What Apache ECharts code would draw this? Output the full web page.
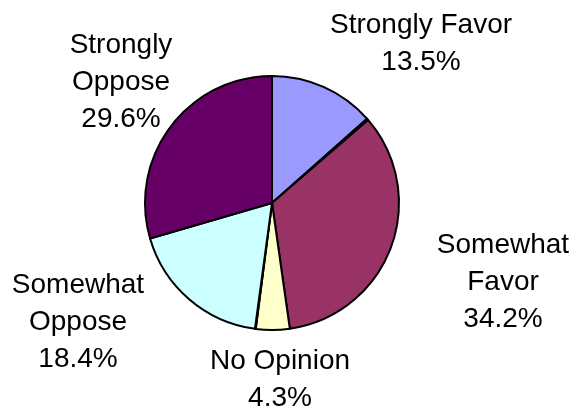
<!DOCTYPE html>
<html>
<head>
<meta charset="utf-8">
<script src="https://cdn.jsdelivr.net/npm/echarts@6/dist/echarts.min.js"></script>
<style>
html,body{margin:0;padding:0;background:#fff;}
#c{width:578px;height:413px;}
</style>
</head>
<body>
<div id="c"></div>
<script>
// Data (clockwise from 12 o'clock)
const categories = ['Strongly Favor', 'Other', 'Somewhat Favor', 'No Opinion', 'Other 2', 'Somewhat Oppose', 'Strongly Oppose'];
const labelNames = ['Strongly Favor', '', 'Somewhat\nFavor', 'No Opinion', '', 'Somewhat\nOppose', 'Strongly\nOppose'];
const values = [13.5, 0.2, 34.2, 4.3, 0.1, 18.4, 29.6];
const colors = ['#9999FF', '#DDDDDD', '#993366', '#FFFFCC', '#CCFFFF', '#CCFFFF', '#660066'];
// label block centres (px), styling only
const labelX = [421, 0, 503, 280, 0, 78, 121];
const labelY = [44, 0, 282, 380, 0, 322, 82];

const chart = echarts.init(document.getElementById('c'), null, {renderer: 'canvas'});
chart.setOption({
  animation: false,
  backgroundColor: '#ffffff',
  series: [{
    type: 'pie',
    center: [272, 203],
    radius: 127,
    startAngle: 90,
    clockwise: true,
    avoidLabelOverlap: false,
    silent: true,
    itemStyle: {borderColor: '#000000', borderWidth: 2},
    label: {
      show: true,
      position: 'outside',
      fontFamily: 'Liberation Sans, Arial, sans-serif',
      fontSize: 28,
      lineHeight: 37,
      color: '#000000',
      align: 'center',
      formatter: function (p) { return labelNames[p.dataIndex] + '\n' + values[p.dataIndex].toFixed(1) + '%'; }
    },
    labelLine: {show: false},
    labelLayout: function (p) {
      return {x: labelX[p.dataIndex], y: labelY[p.dataIndex], align: 'center', verticalAlign: 'middle'};
    },
    data: categories.map(function (c, i) {
      return {
        name: c,
        value: values[i],
        itemStyle: {color: colors[i]},
        label: {show: labelNames[i] !== ''}
      };
    })
  }]
});
</script>
</body>
</html>
